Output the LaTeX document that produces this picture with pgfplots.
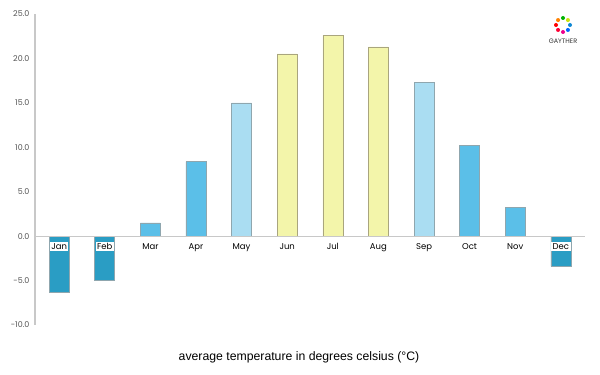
\documentclass[border=0pt]{standalone}
\usepackage{fontspec}
\setmainfont{Liberation Sans}
\newfontfamily\gothic{Poppins}
\usepackage{pgfplots}
\pgfplotsset{compat=1.18}
\definecolor{dkblue}{HTML}{2A9DC4}
\definecolor{mdblue}{HTML}{5BBFE8}
\definecolor{ltblue}{HTML}{AADDF2}
\definecolor{paleyel}{HTML}{F3F5AA}
\definecolor{yeledge}{HTML}{A9A57E}
\definecolor{bedge}{HTML}{8FA6AE}
\definecolor{axgray}{HTML}{C8C8C8}
\definecolor{txgray}{HTML}{555555}
\begin{document}
\begin{tikzpicture}
\useasboundingbox (0,0) rectangle (600bp,375bp);
\begin{axis}[
  at={(35bp,50bp)}, anchor=south west,
  scale only axis, width=550bp, height=311bp,
  xmin=-0.53, xmax=11.53, ymin=-10, ymax=25,
  axis x line=middle, axis y line=left,
  axis line style={axgray, line width=1.2bp, -},
  axis on top,
  xtick={0,...,11},
  xticklabels={Jan,Feb,Mar,Apr,May,Jun,Jul,Aug,Sep,Oct,Nov,Dec},
  ytick={-10,-5,...,25},
  major tick length=0pt,
  /pgf/number format/assume math mode=true,
  yticklabel={\pgfmathprintnumber[fixed,fixed zerofill,precision=1]{\tick}},
  yticklabel style={font=\gothic\fontsize{8}{9}\selectfont, text=txgray, xshift=-2bp},
  xticklabel style={font=\gothic\fontsize{8.5}{9}\selectfont, text=black, fill=white, inner sep=1.5bp, yshift=-5.5bp},
  ybar, bar width=20bp, bar shift=0pt,
  clip=false,
]
\addplot[fill=dkblue, draw=bedge, line width=0.6bp] coordinates {(0,-6.3) (1,-5.0) (11,-3.4)};
\addplot[fill=mdblue, draw=bedge, line width=0.6bp] coordinates {(2,1.5) (3,8.4) (9,10.2) (10,3.2)};
\addplot[fill=ltblue, draw=bedge, line width=0.6bp] coordinates {(4,15.0) (8,17.3)};
\addplot[fill=paleyel, draw=yeledge, line width=0.6bp] coordinates {(5,20.5) (6,22.6) (7,21.3)};
\end{axis}
\node[font=\fontsize{12.3}{14}\selectfont] at (299bp,18bp) {average temperature in degrees celsius (°C)};
% logo
\foreach \a/\c in {90/green!70!black,45/yellow!80!green,0/cyan!70!blue,-45/blue!60!cyan,-90/magenta,-135/red!80!magenta,180/red,135/orange}
  \fill[\c] (563bp,350bp) ++(\a:7bp) circle (2bp);
\node[font=\gothic\fontsize{6.5}{7}\selectfont, text=black!80] at (563bp,334bp) {GAYTHER};
\end{tikzpicture}
\end{document}
